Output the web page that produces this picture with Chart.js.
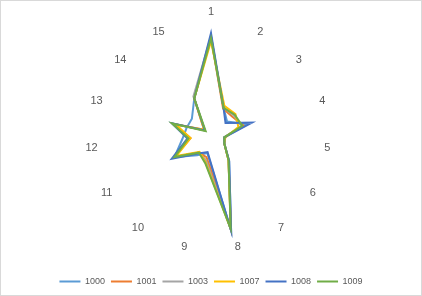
<!DOCTYPE html>
<html>
<head>
<meta charset="utf-8">
<script src="https://cdn.jsdelivr.net/npm/chart.js@4"></script>
<style>
  body { margin: 0; background: #fff; }
  canvas { display: block; }
</style>
</head>
<body>
<canvas id="radarChart" width="422" height="296"></canvas>
<script>
const categories = ['1', '2', '3', '4', '5', '6', '7', '8', '9', '10', '11', '12', '13', '14', '15'];
const seriesNames = ['1000', '1001', '1003', '1007', '1008', '1009'];
const s1000 = [97, 30, 21, 37, 13, 15, 30, 94, 17, 23, 41, 28, 25, 25, 40];
const s1001 = [96, 29, 28, 33, 13, 15, 29, 93, 21, 20, 41, 20, 38, 9, 40];
const s1003 = [97, 30, 30, 31, 13, 15, 29, 93, 24, 20, 41, 22, 38, 8, 42];
const s1007 = [92, 32, 32, 28, 14, 15, 29, 92, 26, 19, 39, 20, 36, 9, 40];
const s1008 = [100, 30, 19, 42, 13, 15, 30, 94, 16, 21, 44, 23, 40, 8, 40];
const s1009 = [95, 30, 31, 32, 13, 15, 29, 92, 27, 20, 41, 22, 40, 7, 40];
const colors = ['#5B9BD5', '#ED7D31', '#A5A5A5', '#FFC000', '#4472C4', '#70AD47'];
const allSeries = [s1000, s1001, s1003, s1007, s1008, s1009];

const textGray = '#595959';
const fontFamily = "'Liberation Sans', Arial, sans-serif";

// 枠線
const borderPlugin = {
    id: 'outerBorder',
    afterDraw(chart) {
        const c = chart.ctx;
        c.save();
        c.strokeStyle = '#D9D9D9';
        c.lineWidth = 1;
        c.strokeRect(0.5, 0.5, chart.width - 1, chart.height - 1);
        c.restore();
    }
};

const ctx = document.getElementById('radarChart').getContext('2d');
const radarChart = new Chart(ctx, {
    type: 'radar',
    data: {
        labels: categories,
        datasets: seriesNames.map((name, i) => ({
            label: name,
            data: allSeries[i],
            borderColor: colors[i],
            backgroundColor: colors[i],
            borderWidth: 2,
            fill: false,
            pointRadius: 0,
            tension: 0,
            order: seriesNames.length - 1 - i
        }))
    },
    options: {
        responsive: false,
        devicePixelRatio: 1,
        animation: false,
        layout: { padding: { top: 6 } },
        plugins: {
            tooltip: { enabled: false },
            legend: {
                position: 'bottom',
                title: { display: true, text: '', font: { size: 10, lineHeight: 1 }, padding: { top: 3, bottom: 4 } },
                labels: {
                    boxWidth: 21,
                    boxHeight: 2,
                    padding: 6,
                    color: textGray,
                    font: { family: fontFamily, size: 9 },
                    generateLabels: chart => Chart.defaults.plugins.legend.labels.generateLabels(chart)
                        .map(item => Object.assign(item, { lineWidth: 0 })),
                    sort: (a, b) => a.datasetIndex - b.datasetIndex
                }
            }
        },
        scales: {
            r: {
                min: 0,
                max: 100,
                grid: { display: false },
                angleLines: { display: false },
                ticks: { display: false },
                pointLabels: {
                    color: textGray,
                    font: { family: fontFamily, size: 11, lineHeight: 0.01 },
                    padding: c => c.index === 0 ? 21 : 11
                }
            }
        }
    },
    plugins: [borderPlugin]
});
</script>
</body>
</html>
